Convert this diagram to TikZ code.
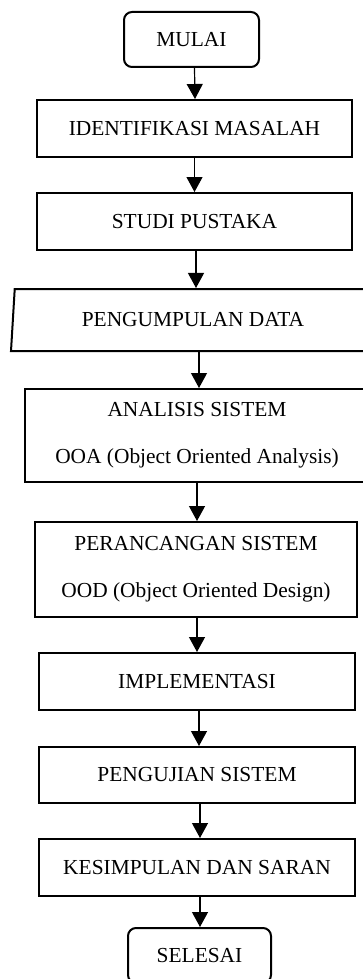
\documentclass[tikz,border=0pt]{standalone}
\usepackage{amsmath,amssymb}
\usepackage{fontspec}
\setmainfont{Liberation Serif}
\usepackage{tikz}
\usetikzlibrary{arrows.meta,shapes.geometric}

\begin{document}
\begin{tikzpicture}
[
x=0.5pt, y=-0.5pt,
every node/.style={draw, line width=1pt, inner sep=0pt, align=center, font=\fontsize{10.7}{23.5}\selectfont},
terminal/.style={rounded corners=4pt, minimum width=135*0.5pt, minimum height=55*0.5pt},
proses/.style={minimum width=316*0.5pt, minimum height=57*0.5pt},
dataio/.style={trapezium, trapezium left angle=75.5, trapezium right angle=104.5, trapezium stretches body, minimum width=364*0.5pt, minimum height=62*0.5pt},
panah/.style={-{Triangle[width=8pt,length=7.5pt]}, line width=0.6pt}
]
\useasboundingbox (0,0) rectangle (363,979);

\node[terminal] (mulai) at (191.5,39.5) {MULAI};
\node[proses, minimum width=315*0.5pt] (identifikasi) at (194.5,128.5) {IDENTIFIKASI MASALAH};
\node[proses, minimum width=315*0.5pt] (studi) at (194.5,221.5) {STUDI PUSTAKA};
\node[dataio] (data) at (193,320) {PENGUMPULAN DATA};
\node[proses, minimum width=344*0.5pt, minimum height=93*0.5pt] (analisis) at (197,435.5) {ANALISIS SISTEM\\OOA (Object Oriented Analysis)};
\node[proses, minimum width=322*0.5pt, minimum height=95*0.5pt] (rancang) at (196,569.5) {PERANCANGAN SISTEM\\OOD (Object Oriented Design)};
\node[proses] (implementasi) at (197,681.5) {IMPLEMENTASI};
\node[proses, minimum height=56*0.5pt] (pengujian) at (197,775) {PENGUJIAN SISTEM};
\node[proses] (kesimpulan) at (197,867.5) {KESIMPULAN DAN SARAN};
\node[terminal, minimum width=143*0.5pt] (selesai) at (199.5,955.5) {SELESAI};

\draw[panah] (mulai.south) ++(3,0) -- (identifikasi.north -| 195,0);
\draw[panah] (identifikasi.south) -- (studi.north);
\draw[panah] (studi.south -| 196,0) -- (data.north -| 196,0);
\draw[panah] (data.south -| 199,0) -- (analisis.north -| 199,0);
\draw[panah] (analisis.south) -- (rancang.north -| analisis.south);
\draw[panah] (rancang.south -| 197,0) -- (implementasi.north);
\draw[panah] (implementasi.south -| 199,0) -- (pengujian.north -| 199,0);
\draw[panah] (pengujian.south -| 200,0) -- (kesimpulan.north -| 200,0);
\draw[panah] (kesimpulan.south -| 200,0) -- (selesai.north -| 200,0);
\end{tikzpicture}
\end{document}
